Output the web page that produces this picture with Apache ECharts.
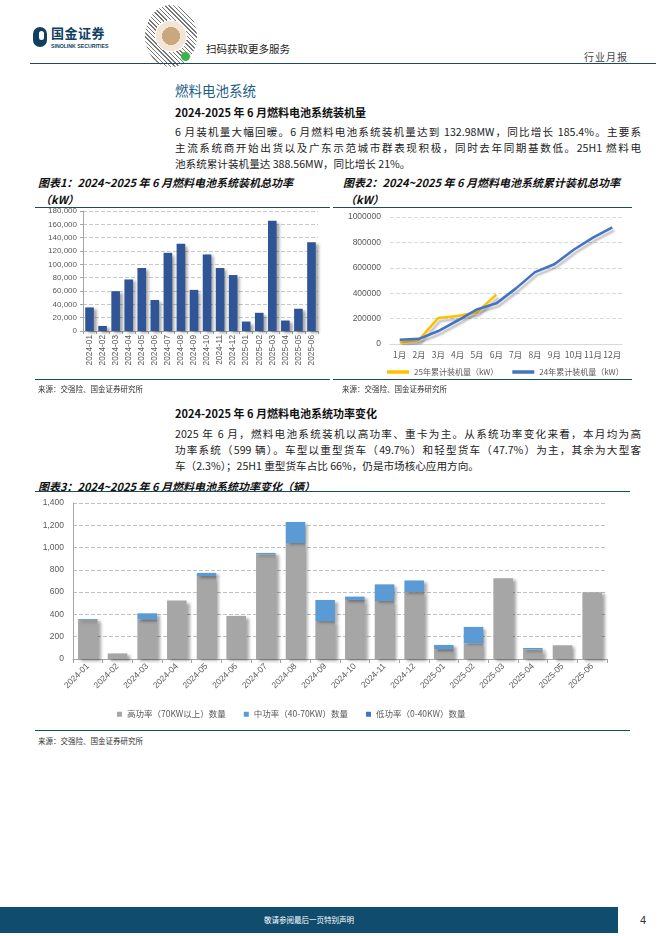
<!DOCTYPE html>
<html><head><meta charset="utf-8">
<script src="https://cdn.jsdelivr.net/npm/echarts@6/dist/echarts.min.js"></script>
<style>
body{margin:0;width:662px;height:936px;position:relative;background:#fff;font-family:"Noto Sans CJK SC","Noto Sans",sans-serif;overflow:hidden;color:#222}
.abs{position:absolute;white-space:nowrap}
.ln{position:absolute;height:0;border-top:1.5px solid #1d4b5e}
.p{position:absolute;left:175px;width:466px;font-size:10.6px;line-height:13px;white-space:nowrap}
.j{text-align:justify;text-align-last:justify}
.ct{position:absolute;font-size:11px;font-weight:bold;font-style:italic;color:#111;white-space:nowrap}
.src{position:absolute;font-size:7.5px;color:#333;white-space:nowrap}
</style></head><body>
<!-- header -->
<div class="abs" style="left:33px;top:27px;width:14px;height:20px;border-radius:7px;background:#0f3f63"></div>
<div class="abs" style="left:39px;top:31px;width:5px;height:9px;border-radius:3px;background:#fff"></div>
<div class="abs" style="left:51px;top:25px;font-size:13px;font-weight:bold;color:#0f3f63;letter-spacing:0.5px;line-height:16px">国金证券</div>
<div class="abs" style="left:51px;top:43px;font-size:5.2px;font-weight:bold;color:#0f3f63;font-family:'Liberation Sans';line-height:6px">SINOLINK SECURITIES</div>
<div class="abs" style="left:145px;top:5px;width:52px;height:62px;border-radius:50%;background:radial-gradient(circle,#c9a77f 0 9px,#f3e6d6 9px 15px,#fff 15px 16px,transparent 16px),repeating-linear-gradient(45deg,#777 0 1px,#fff 1px 3px)"></div>
<div class="abs" style="left:181px;top:52px;width:9px;height:9px;border-radius:50%;background:#3bb44a"></div>
<div class="abs" style="left:206px;top:41px;font-size:10.5px;color:#222">扫码获取更多服务</div>
<div class="abs" style="left:584px;top:49px;font-size:10px;color:#444;letter-spacing:1px">行业月报</div>
<div class="ln" style="left:30px;top:63px;width:626px"></div>

<!-- section 1 -->
<div class="abs" style="left:175px;top:80px;font-size:13.5px;color:#1e5d87">燃料电池系统</div>
<div class="abs" style="left:175px;top:104px;font-size:11px;font-weight:bold;color:#111">2024-2025 年 6 月燃料电池系统装机量</div>
<div class="p j" style="top:125px">6 月装机量大幅回暖。6 月燃料电池系统装机量达到 132.98MW，同比增长 185.4%。主要系</div>
<div class="p j" style="top:141px">主流系统商开始出货以及广东示范城市群表现积极，同时去年同期基数低。25H1 燃料电</div>
<div class="p" style="top:157px">池系统累计装机量达 388.56MW，同比增长 21%。</div>

<div class="ct" style="left:38px;top:174px">图表1：2024~2025 年 6 月燃料电池系统装机总功率</div>
<div class="ct" style="left:40px;top:191px">（kW）</div>
<div class="ln" style="left:35px;top:207px;width:295px"></div>
<div class="ct" style="left:343px;top:174px">图表2：2024~2025 年 6 月燃料电池系统累计装机总功率</div>
<div class="ct" style="left:345px;top:191px">（kW）</div>
<div class="ln" style="left:333px;top:207px;width:299px"></div>

<div id="c1" style="position:absolute;left:0;top:205px;width:330px;height:175px"></div>
<div id="c2" style="position:absolute;left:330px;top:205px;width:332px;height:175px"></div>

<div class="ln" style="left:35px;top:379px;width:295px"></div>
<div class="ln" style="left:333px;top:379px;width:299px"></div>
<div class="src" style="left:38px;top:383px">来源：交强险、国金证券研究所</div>
<div class="src" style="left:342px;top:383px">来源：交强险、国金证券研究所</div>

<!-- section 2 -->
<div class="abs" style="left:175px;top:405px;font-size:11px;font-weight:bold;color:#111">2024-2025 年 6 月燃料电池系统功率变化</div>
<div class="p j" style="top:427px">2025 年 6 月，燃料电池系统装机以高功率、重卡为主。从系统功率变化来看，本月均为高</div>
<div class="p j" style="top:443px">功率系统（599 辆）。车型以重型货车（49.7%）和轻型货车（47.7%）为主，其余为大型客</div>
<div class="p" style="top:459px">车（2.3%）；25H1 重型货车占比 66%，仍是市场核心应用方向。</div>

<div class="ct" style="left:38px;top:478px">图表3：2024~2025 年 6 月燃料电池系统功率变化（辆）</div>
<div class="ln" style="left:35px;top:491px;width:595px"></div>
<div id="c3" style="position:absolute;left:0;top:495px;width:662px;height:230px"></div>
<div class="ln" style="left:35px;top:730px;width:595px"></div>
<div class="src" style="left:38px;top:735px">来源：交强险、国金证券研究所</div>

<!-- footer -->
<div class="abs" style="left:0;top:907px;width:618px;height:26px;background:#0f4c6e"></div>
<div class="abs" style="left:0;top:914px;width:618px;text-align:center;font-size:7.5px;color:#fff">敬请参阅最后一页特别声明</div>
<div class="abs" style="left:640px;top:914px;font-size:11px;color:#333;font-family:'Liberation Sans'">4</div>

<script>
const months = ['2024-01','2024-02','2024-03','2024-04','2024-05','2024-06','2024-07','2024-08','2024-09','2024-10','2024-11','2024-12','2025-01','2025-02','2025-03','2025-04','2025-05','2025-06'];
const totalPowerKW = [35400, 7600, 59700, 77300, 94500, 46500, 117300, 131000, 61700, 114800, 94500, 83900, 14200, 27300, 165300, 15700, 33400, 132980];

const monthLabels = ['1月','2月','3月','4月','5月','6月','7月','8月','9月','10月','11月','12月'];
const cum2025 = [12000, 32000, 205000, 220000, 250000, 389000];
const cum2024 = [33000, 40000, 102000, 185000, 272000, 320000, 436000, 566000, 628000, 742000, 838000, 918000];
const lineNames = ['25年累计装机量（kW）','24年累计装机量（kW）'];

const powerNames = ['高功率（70KW以上）数量','中功率（40-70KW）数量','低功率（0-40KW）数量'];
const highPower = [350, 50, 355, 525, 745, 387, 940, 1040, 340, 530, 520, 600, 88, 140, 725, 85, 123, 599];
const midPower  = [8, 0, 55, 0, 28, 0, 12, 190, 190, 30, 150, 105, 38, 148, 0, 14, 0, 0];
const lowPower  = [0, 0, 0, 0, 0, 0, 0, 0, 0, 0, 0, 0, 0, 0, 0, 0, 0, 0];

const fmt = v => Number(v).toLocaleString('en-US');
const lat = 'Liberation Sans';
const cjk = 'Noto Sans CJK SC';
const shadow = {shadowColor:'rgba(0,0,0,0.35)',shadowBlur:3,shadowOffsetX:3,shadowOffsetY:2};

const c1 = echarts.init(document.getElementById('c1'));
c1.setOption({
  animation:false,
  grid:{left:83,right:12,top:6,bottom:49},
  xAxis:{type:'category',data:months,
    axisLine:{lineStyle:{color:'#a6a6a6'}},
    axisTick:{show:true,length:3,lineStyle:{color:'#a6a6a6'}},
    axisLabel:{rotate:90,fontSize:8.3,color:'#595959',margin:4,fontFamily:lat,interval:0}},
  yAxis:{type:'value',min:0,max:180000,interval:20000,
    axisLine:{show:true,lineStyle:{color:'#a6a6a6'}},
    axisTick:{show:true,length:3,lineStyle:{color:'#a6a6a6'}},
    splitLine:{lineStyle:{type:'dashed',color:'#c8c8c8'}},
    axisLabel:{fontSize:8,color:'#595959',margin:6,fontFamily:lat,formatter:fmt}},
  series:[{type:'bar',data:totalPowerKW,barWidth:'66%',itemStyle:Object.assign({color:'#2f5597'},shadow)}]
});

const c2 = echarts.init(document.getElementById('c2'));
const lineColors = ['#ffc000','#4472c4'];
c2.setOption({
  animation:false,
  grid:{left:60,right:40,top:12,bottom:36},
  legend:{left:52,top:158,icon:'rect',itemWidth:22,itemHeight:3.5,itemGap:14,
    textStyle:{fontSize:8,color:'#595959',fontFamily:cjk},data:lineNames},
  xAxis:{type:'category',data:monthLabels,
    axisLine:{lineStyle:{color:'#d9d9d9'}},axisTick:{show:false},
    axisLabel:{fontSize:8.5,color:'#595959',margin:7,fontFamily:cjk,interval:0}},
  yAxis:{type:'value',min:0,max:1000000,interval:200000,
    axisLine:{show:false},axisTick:{show:false},
    splitLine:{lineStyle:{type:'dashed',color:'#d9d9d9'}},
    axisLabel:{fontSize:8.5,color:'#595959',margin:9,fontFamily:lat,formatter:v=>String(v)}},
  series:[cum2025,cum2024].map((d,i)=>({
    name:lineNames[i],type:'line',data:d,symbol:'none',
    itemStyle:{color:lineColors[i]},
    lineStyle:{width:2.6,color:lineColors[i],shadowColor:'rgba(0,0,0,0.25)',shadowBlur:2,shadowOffsetX:2,shadowOffsetY:3}
  }))
});

const c3 = echarts.init(document.getElementById('c3'));
const barColors = ['#a6a6a6','#5b9bd5','#4472c4'];
c3.setOption({
  animation:false,
  grid:{left:73,right:55,top:8,bottom:66},
  legend:{left:112,top:210,icon:'rect',itemWidth:5,itemHeight:5,itemGap:18,
    textStyle:{fontSize:8.5,color:'#595959',fontFamily:cjk},data:powerNames},
  xAxis:{type:'category',data:months,
    axisLine:{lineStyle:{color:'#a6a6a6'}},
    axisTick:{show:true,length:4,lineStyle:{color:'#a6a6a6'}},
    axisLabel:{rotate:45,fontSize:8.5,color:'#595959',margin:6,fontFamily:lat,interval:0}},
  yAxis:{type:'value',min:0,max:1400,interval:200,
    axisLine:{show:true,lineStyle:{color:'#a6a6a6'}},
    axisTick:{show:false},
    splitLine:{lineStyle:{type:'dashed',color:'#bfbfbf'}},
    axisLabel:{fontSize:8.5,color:'#595959',margin:9,fontFamily:lat,formatter:fmt}},
  series:[highPower,midPower,lowPower].map((d,i)=>({
    name:powerNames[i],type:'bar',stack:'p',data:d,barWidth:'66%',
    itemStyle:Object.assign({color:barColors[i]},shadow)
  }))
});
</script>
</body></html>
